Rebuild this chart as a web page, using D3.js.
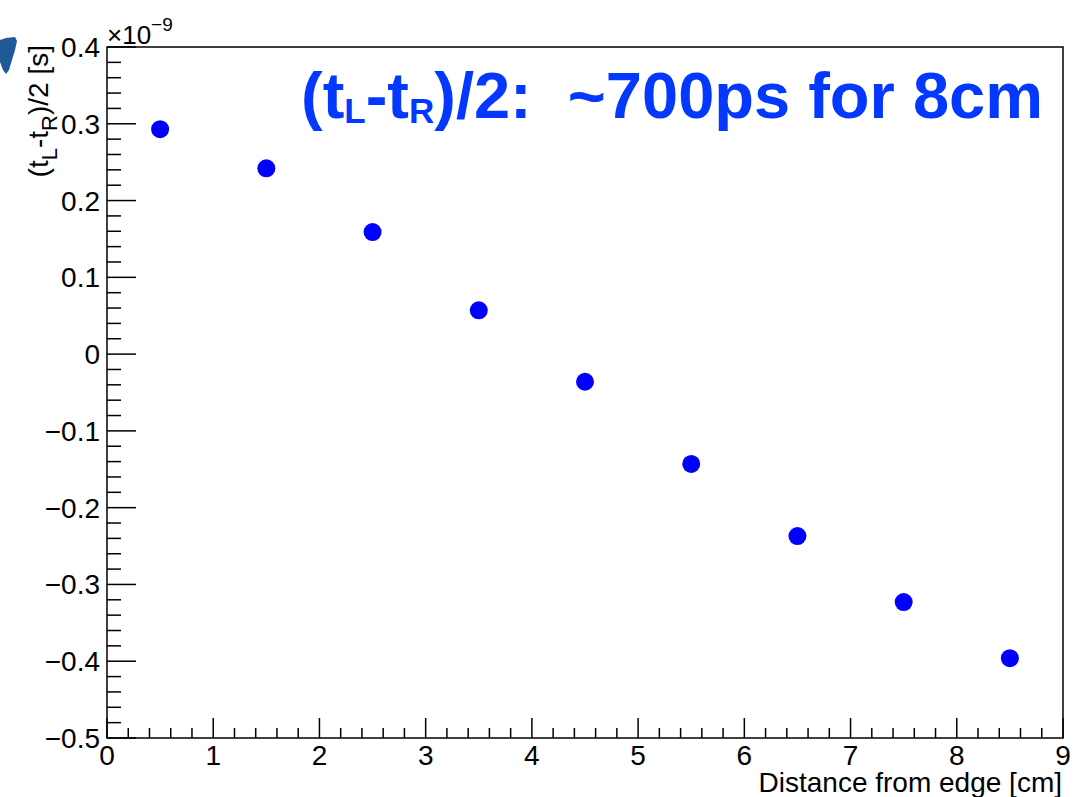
<!DOCTYPE html>
<html>
<head>
<meta charset="utf-8">
<script src="https://cdn.jsdelivr.net/npm/d3@7"></script>
<style>
  html, body { margin: 0; padding: 0; background: #fff; }
  svg { display: block; }
  text { font-family: "Liberation Sans", Arial, Helvetica, sans-serif; }
</style>
</head>
<body>
<svg id="chart" width="1074" height="797"></svg>
<script>
// ---- data ----
const distances = [0.5, 1.5, 2.5, 3.5, 4.5, 5.5, 6.5, 7.5, 8.5];           // cm
const halfDiff  = [0.293, 0.242, 0.159, 0.057, -0.036, -0.143, -0.237, -0.323, -0.396]; // x1e-9 s
const xTicks = [0, 1, 2, 3, 4, 5, 6, 7, 8, 9];
const yTicks = [-0.5, -0.4, -0.3, -0.2, -0.1, 0, 0.1, 0.2, 0.3, 0.4];
const xDomain = [0, 9];
const yDomain = [-0.5, 0.4];

const svg = d3.select("#chart");
const L = 107, R = 1063, T = 47, B = 738;

const x = d3.scaleLinear().domain(xDomain).range([L, R]);
const y = d3.scaleLinear().domain(yDomain).range([B, T]);

// stray blob at left edge
svg.append("path")
  .attr("d", "M0,40 L6,38 L15,37 L17,41 L15,50 L12,60 L9,70 L6,74 L3,70 L0,62 Z")
  .attr("fill", "#1f5a96");

// frame
svg.append("rect").attr("x", L).attr("y", T).attr("width", R - L).attr("height", B - T)
  .attr("fill", "none").attr("stroke", "#000").attr("stroke-width", 1.5);

// y ticks (inside)
const yMinor = d3.range(-0.5, 0.4001, 0.02);
svg.append("g").selectAll("line").data(yMinor).join("line")
  .attr("x1", L).attr("x2", d => L + (Math.abs(Math.round(d * 50)) % 5 === 0 ? 29 : 14))
  .attr("y1", d => y(d)).attr("y2", d => y(d))
  .attr("stroke", "#000").attr("stroke-width", 1.5);

// x ticks (inside)
const xMinor = d3.range(0, 9.0001, 0.2);
svg.append("g").selectAll("line").data(xMinor).join("line")
  .attr("x1", d => x(d)).attr("x2", d => x(d))
  .attr("y1", B).attr("y2", d => B - (Math.abs(Math.round(d * 5)) % 5 === 0 ? 20 : 10))
  .attr("stroke", "#000").attr("stroke-width", 1.5);

const fmt = d => (d < 0 ? "\u2212" : "") + (Math.abs(d) < 1e-9 ? "0" : d3.format("")(Math.abs(+d.toFixed(1))));

// y tick labels
svg.append("g").selectAll("text").data(yTicks).join("text")
  .attr("x", 100).attr("y", d => y(d) + 10)
  .attr("text-anchor", "end").attr("font-size", 28).attr("fill", "#000")
  .text(fmt);

// x tick labels
svg.append("g").selectAll("text").data(xTicks).join("text")
  .attr("x", d => x(d)).attr("y", 765)
  .attr("text-anchor", "middle").attr("font-size", 28).attr("fill", "#000")
  .text(d => d);

// exponent
const ex = svg.append("text").attr("x", 107).attr("y", 44).attr("font-size", 26).attr("fill", "#000");
ex.append("tspan").text("\u00d710");
ex.append("tspan").attr("dy", -13).attr("font-size", 19).text("\u22129");

// x axis title
svg.append("text").attr("x", 1062).attr("y", 792).attr("text-anchor", "end")
  .attr("font-size", 28).attr("fill", "#000").text("Distance from edge [cm]");

// y axis title
const yt = svg.append("text").attr("transform", "translate(48,45) rotate(-90)")
  .attr("text-anchor", "end").attr("font-size", 28).attr("fill", "#000");
yt.append("tspan").text("(t");
yt.append("tspan").attr("font-size", 22).attr("dy", 9).text("L");
yt.append("tspan").attr("dy", -9).text("-t");
yt.append("tspan").attr("font-size", 22).attr("dy", 9).text("R");
yt.append("tspan").attr("dy", -9).text(")/2 [s]");

// points
svg.append("g").selectAll("circle").data(distances).join("circle")
  .attr("cx", d => x(d)).attr("cy", (d, i) => y(halfDiff[i])).attr("r", 9)
  .attr("fill", "#0000ff");

// annotation
const ann = svg.append("text").attr("x", 1043).attr("y", 118).attr("text-anchor", "end")
  .attr("font-size", 65).attr("font-weight", "bold").attr("fill", "#0438ff");
ann.append("tspan").text("(t");
ann.append("tspan").attr("font-size", 35).attr("dy", 5).text("L");
ann.append("tspan").attr("dy", -5).text("-t");
ann.append("tspan").attr("font-size", 35).attr("dy", 5).text("R");
ann.append("tspan").attr("dy", -5).text(")/2:\u00a0\u00a0~700ps for 8cm");
</script>
</body>
</html>
